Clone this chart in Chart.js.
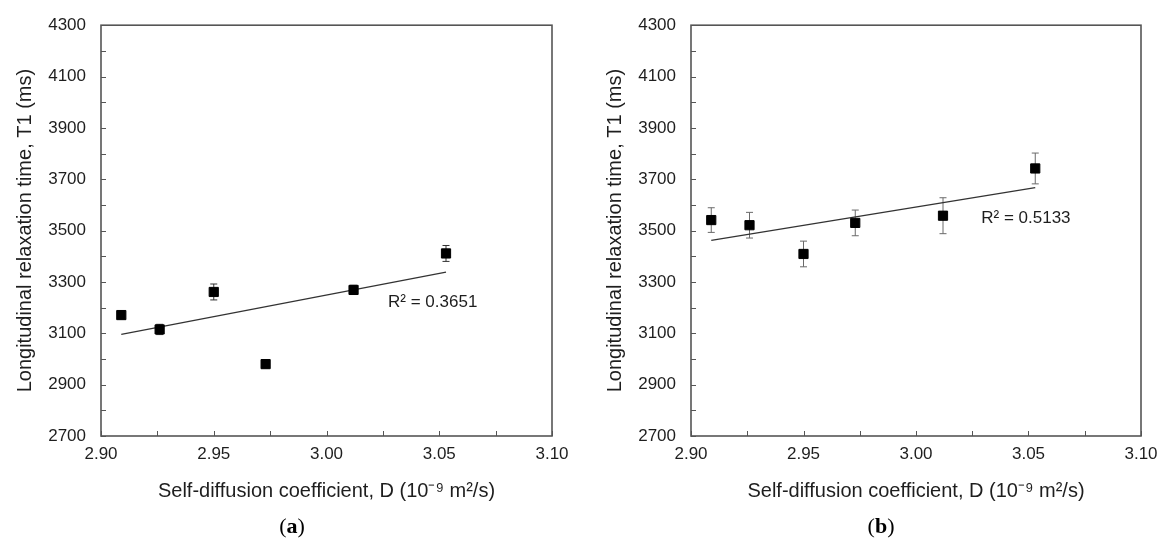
<!DOCTYPE html>
<html>
<head>
<meta charset="utf-8">
<script src="https://cdn.jsdelivr.net/npm/chart.js@4.4.1/dist/chart.umd.min.js"></script>
<style>
  body { margin: 0; background: #fff; width: 1159px; height: 543px; position: relative; overflow: hidden; }
  .panel { position: absolute; top: 0; }
  .cap { position: absolute; top: 513px; font: 22px "Liberation Serif", "Times New Roman", serif; color: #000; transform: translateX(-50%); }
</style>
</head>
<body>
<div class="panel" style="left:0"><canvas id="chartA" width="580" height="543"></canvas></div>
<div class="panel" style="left:590px"><canvas id="chartB" width="579" height="543"></canvas></div>
<div class="cap" style="left:292px">(<b>a</b>)</div>
<div class="cap" style="left:881px">(<b>b</b>)</div>
<script>
// values
const xA = [2.909, 2.926, 2.950, 2.973, 3.012, 3.053];
const yA = [3171, 3115, 3261, 2980, 3269, 3411];
const errA = [15, 20, 31, 15, 18, 31];
const trendA = [{ x: 2.909, y: 3096 }, { x: 3.053, y: 3338 }];
const r2A = 'R² = 0.3651';

const xB = [2.909, 2.926, 2.950, 2.973, 3.012, 3.053];
const yB = [3541, 3521, 3409, 3530, 3558, 3742];
const errB = [48, 50, 50, 50, 70, 60];
const trendB = [{ x: 2.909, y: 3462 }, { x: 3.053, y: 3667 }];
const r2B = 'R² = 0.5133';

const xTickLabels = ['2.90', '2.95', '3.00', '3.05', '3.10'];
const yTickLabels = ['2700', '2900', '3100', '3300', '3500', '3700', '3900', '4100', '4300'];

const FONT = '"Liberation Sans", Arial, sans-serif';
const TXT = '#1e1e1e';

// box round the plot, inward ticks, error bars and the R² note
const framePlugin = {
  id: 'frame',
  beforeDatasetsDraw(chart, args, opts) {
    const { ctx, chartArea: a, scales: { x, y } } = chart;
    ctx.save();
    ctx.strokeStyle = '#555';
    ctx.lineWidth = 1.6;
    ctx.strokeRect(a.left, a.top, a.right - a.left, a.bottom - a.top);
    ctx.lineWidth = 1;
    ctx.beginPath();
    x.ticks.forEach(t => {
      const px = Math.round(x.getPixelForValue(t.value)) + 0.5;
      ctx.moveTo(px, a.bottom); ctx.lineTo(px, a.bottom - 5);
    });
    y.ticks.forEach(t => {
      const py = Math.round(y.getPixelForValue(t.value)) + 0.5;
      ctx.moveTo(a.left, py); ctx.lineTo(a.left + 5, py);
    });
    ctx.stroke();

    // error bars
    const ds = chart.data.datasets[0];
    ctx.strokeStyle = opts.errColor;
    ctx.lineWidth = 1;
    ctx.beginPath();
    ds.data.forEach((p, i) => {
      const px = x.getPixelForValue(p.x);
      const top = y.getPixelForValue(p.y + ds.errors[i]);
      const bot = y.getPixelForValue(p.y - ds.errors[i]);
      ctx.moveTo(px, top); ctx.lineTo(px, bot);
      ctx.moveTo(px - 3.5, top); ctx.lineTo(px + 3.5, top);
      ctx.moveTo(px - 3.5, bot); ctx.lineTo(px + 3.5, bot);
    });
    ctx.stroke();
    ctx.restore();
  },
  afterDatasetsDraw(chart, args, opts) {
    const { ctx, scales: { x, y } } = chart;
    ctx.save();
    ctx.font = '17px ' + FONT;
    ctx.fillStyle = TXT;
    ctx.textAlign = 'left';
    ctx.textBaseline = 'middle';
    ctx.fillText(opts.text, x.getPixelForValue(opts.at[0]), y.getPixelForValue(opts.at[1]));
    ctx.restore();
  }
};

function makeChart(id, xs, ys, errs, trend, r2, r2At, errColor) {
  const pts = xs.map((v, i) => ({ x: v, y: ys[i] }));
  return new Chart(document.getElementById(id), {
    type: 'scatter',
    data: {
      datasets: [
        {
          data: pts,
          errors: errs,
          pointStyle: 'rect',
          pointRadius: 6.5,
          pointHoverRadius: 6.5,
          backgroundColor: '#000',
          borderColor: '#000',
          borderWidth: 1,
          order: 0
        },
        {
          type: 'line',
          data: trend,
          borderColor: '#333',
          borderWidth: 1.3,
          pointRadius: 0,
          fill: false,
          order: 1
        }
      ]
    },
    options: {
      responsive: false,
      animation: false,
      events: [],
      layout: { padding: { left: 0, top: 24, right: 28, bottom: 0 } },
      plugins: {
        legend: { display: false },
        tooltip: { enabled: false },
        frame: { errColor: errColor, text: r2, at: r2At }
      },
      scales: {
        x: {
          type: 'linear',
          min: 2.9,
          max: 3.1,
          grid: { display: false, drawTicks: false },
          border: { display: false },
          ticks: {
            stepSize: 0.025,
            autoSkip: false,
            maxRotation: 0,
            padding: 8,
            color: TXT,
            font: { family: FONT, size: 17 },
            callback: v => xTickLabels.find(l => Math.abs(parseFloat(l) - v) < 1e-6) || ''
          },
          title: {
            display: true,
            text: 'Self-diffusion coefficient, D (10⁻⁹ m²/s)',
            color: TXT,
            font: { family: FONT, size: 20 },
            padding: { top: 0, bottom: 40 }
          },
          afterFit: s => { s.height = 107; }
        },
        y: {
          min: 2700,
          max: 4300,
          grid: { display: false, drawTicks: false },
          border: { display: false },
          ticks: {
            stepSize: 100,
            autoSkip: false,
            padding: 15,
            color: TXT,
            font: { family: FONT, size: 17 },
            callback: v => yTickLabels.includes(String(v)) ? String(v) : ''
          },
          title: {
            display: true,
            text: 'Longitudinal relaxation time, T1 (ms)',
            color: TXT,
            font: { family: FONT, size: 20 },
            padding: { top: 13, bottom: 0 }
          },
          afterFit: s => { s.width = 101; }
        }
      }
    },
    plugins: [framePlugin]
  });
}

makeChart('chartA', xA, yA, errA, trendA, r2A, [3.0273, 3221], '#333');
makeChart('chartB', xB, yB, errB, trendB, r2B, [3.0290, 3549], '#6a6a6a');
</script>
</body>
</html>
